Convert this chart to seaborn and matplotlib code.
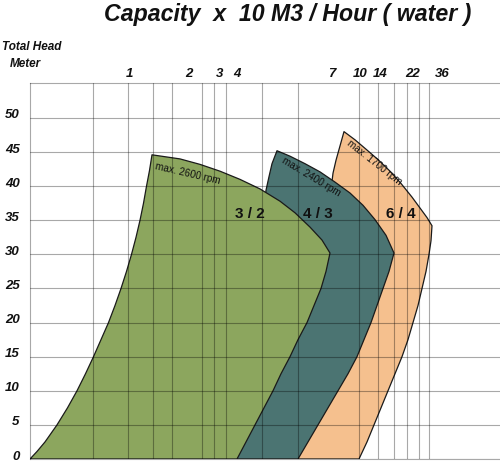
import matplotlib
matplotlib.use("Agg")
import matplotlib.pyplot as plt
import matplotlib.transforms as mtransforms
import seaborn as sns

# ==========================================
# data (x = position along the capacity axis, head in meter)
# ==========================================
cap_labels = ["1", "2", "3", "4", "7", "10", "14", "22", "36"]
cap_label_pos = [99, 159, 190, 207, 302, 330, 350, 383, 412]
cap_grid_pos = [63, 98, 123, 142, 159, 172, 184, 196, 207, 232, 268,
                302, 329, 348, 364, 377, 389, 399, 412]
head_ticks = [0, 5, 10, 15, 20, 25, 30, 35, 40, 45, 50]

# pump 3/2 (max. 2600 rpm): left edge up, top edge, right edge down
green_x = [0, 7, 15, 27, 37.5, 47, 55.5, 63.5, 71, 78.5, 85, 91, 96.5, 101.5, 106, 110,
           113.5, 116.5, 119.5, 122,
           150, 170, 190, 210, 230, 250, 265, 280, 292, 300,
           296, 291, 284, 277, 268, 260, 251, 243, 234, 225, 216, 207]
green_head = [0, 1.1, 2.5, 5.0, 7.5, 10.0, 12.5, 15.0, 17.5, 20.0, 22.5, 25.0, 27.5, 30.0, 32.5,
              35.0, 37.5, 40.0, 42.3, 44.6,
              44.0, 43.2, 42.2, 41.0, 39.6, 37.8, 36.1, 34.0, 32.1, 30.2,
              27.5, 25.0, 22.5, 20.0, 17.5, 15.0, 12.5, 10.0, 7.5, 5.0, 2.5, 0]

# pump 4/3 (max. 2400 rpm)
teal_x = [207, 236, 239, 242, 247,
          260, 275, 290, 305, 320, 333, 345, 356, 364,
          359, 353, 347, 341, 334, 327, 318, 308, 298, 288, 278, 268]
teal_head = [0, 39.4, 41.4, 43.3, 45.2,
             44.4, 43.3, 42.1, 40.6, 39.0, 37.2, 35.1, 32.8, 30.2,
             27.5, 25.0, 22.5, 20.0, 17.5, 15.0, 12.5, 10.0, 7.5, 5.0, 2.5, 0]

# pump 6/4 (max. 1700 rpm)
orange_x = [268, 303, 306, 310, 314,
            325, 337, 348, 360, 371, 382, 391, 397, 402,
            401, 399, 396, 392, 388, 383, 378, 372, 365, 358, 351, 344, 337, 329]
orange_head = [0, 41.9, 43.8, 45.9, 48.0,
               46.8, 45.3, 43.9, 42.2, 40.4, 38.4, 36.6, 35.4, 34.2,
               32.0, 30.0, 27.5, 25.0, 22.5, 20.0, 17.5, 15.0, 12.5, 10.0, 7.5, 5.0, 2.5, 0]

pumps = [
    ("6 / 4", "max. 1700 rpm", orange_x, orange_head, "#f5c08e", (371, 35.9), (344, 43.5), -38),
    ("4 / 3", "max. 2400 rpm", teal_x, teal_head, "#4b7472", (288, 35.9), (281, 41.3), -31),
    ("3 / 2", "max. 2600 rpm", green_x, green_head, "#8ca65e", (220, 35.9), (158, 41.9), -13),
]

# ==========================================
# style
# ==========================================
sns.set_theme(style="white")
plt.rcParams["font.family"] = ["Liberation Sans", "DejaVu Sans"]

fig = plt.figure(figsize=(5, 4.61), dpi=100)
ax = fig.add_axes([30 / 500, 2 / 461, 470 / 500, 376 / 461])

z = 1.0
for name, rpm, xs, hs, col, name_xy, rpm_xy, rot in pumps:
    ax.fill(xs, hs, color=col, lw=0, zorder=z)
    sns.lineplot(x=xs + [xs[0]], y=hs + [hs[0]], sort=False, estimator=None,
                 color="#1a1a1a", lw=0.9, ax=ax, zorder=z + 0.05)
    ax.text(*name_xy, name, ha="center", va="center", fontsize=11,
            fontweight="bold", color="#111111", zorder=5)
    ax.text(*rpm_xy, rpm, ha="center", va="center", fontsize=7.2,
            rotation=rot, rotation_mode="anchor", color="#111111", zorder=5)
    z += 0.1

ax.set_xlim(0, 470)
ax.set_ylim(0, 55.13)

# grid (drawn over the fills)
grid_kw = dict(color="black", alpha=0.34, lw=0.8)
ax.set_xticks(cap_grid_pos, minor=True)
ax.set_xticks(cap_label_pos, labels=cap_labels)
ax.set_yticks(head_ticks, labels=[str(v) for v in head_ticks])
ax.xaxis.tick_top()
ax.set_axisbelow(False)
ax.grid(False)
ax.xaxis.grid(True, which="minor", **grid_kw)
ax.yaxis.grid(True, which="major", **grid_kw)
ax.tick_params(axis="both", which="both", length=0)
ax.tick_params(axis="x", which="major", pad=2.0, labelsize=9.5)
ax.tick_params(axis="y", pad=7.5, labelsize=9.5)
for lab in ax.get_xticklabels() + ax.get_yticklabels():
    lab.set_fontweight("bold")
    lab.set_fontstyle("italic")
    lab.set_color("#111111")
shift = mtransforms.ScaledTranslation(0, 4 / 100, fig.dpi_scale_trans)
for lab in ax.get_yticklabels():
    lab.set_transform(lab.get_transform() + shift)

for side in ["left", "top", "bottom"]:
    ax.spines[side].set_visible(True)
    ax.spines[side].set_color("black")
    ax.spines[side].set_alpha(0.34)
    ax.spines[side].set_linewidth(0.8)
ax.spines["right"].set_visible(False)
ax.set_xlabel("")
ax.set_ylabel("")

fig.text(288 / 500, 1 - 15 / 461, "Capacity  x  10 M3 / Hour ( water )",
         ha="center", va="center", fontsize=16.7, fontweight="bold",
         fontstyle="italic", color="#111111")
fig.text(2 / 500, 1 - 47 / 461, "Total Head", ha="left", va="center",
         fontsize=8.5, fontweight="bold", fontstyle="italic", color="#111111")
fig.text(10 / 500, 1 - 64 / 461, "Meter", ha="left", va="center",
         fontsize=8.5, fontweight="bold", fontstyle="italic", color="#111111")

fig.savefig("out.png", dpi=100)
